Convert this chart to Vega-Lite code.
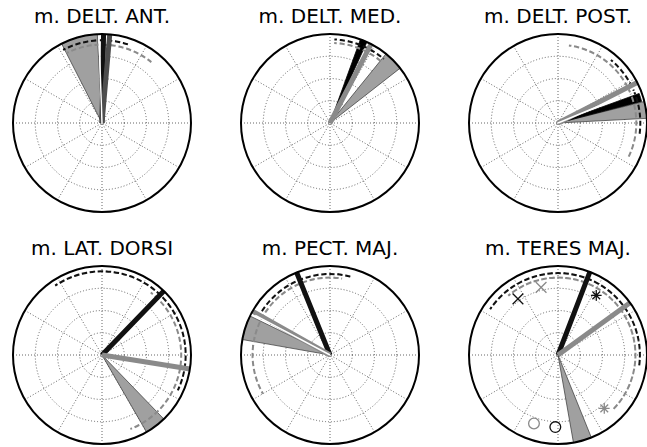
{
 "$schema": "https://vega.github.io/schema/vega-lite/v6.json",
 "background": "white",
 "padding": {"left": 9, "top": 7, "right": 0, "bottom": 0},
 "bounds": "flush",
 "config": {"view": {"stroke": null}},
 "datasets": {
  "main": [
  {"panel": "m. DELT. ANT.", "kind": "spoke", "x": 1, "y": 0, "x2": -1, "y2": 0}, {"panel": "m. DELT. ANT.", "kind": "spoke", "x": 0.866, "y": 0.5, "x2": -0.866, "y2": -0.5}, {"panel": "m. DELT. ANT.", "kind": "spoke", "x": 0.5, "y": 0.866, "x2": -0.5, "y2": -0.866}, {"panel": "m. DELT. ANT.", "kind": "spoke", "x": 0, "y": 1, "x2": 0, "y2": -1}, {"panel": "m. DELT. ANT.", "kind": "spoke", "x": -0.5, "y": 0.866, "x2": 0.5, "y2": -0.866}, {"panel": "m. DELT. ANT.", "kind": "spoke", "x": -0.866, "y": 0.5, "x2": 0.866, "y2": -0.5},
  {"panel": "m. DELT. MED.", "kind": "spoke", "x": 1, "y": 0, "x2": -1, "y2": 0}, {"panel": "m. DELT. MED.", "kind": "spoke", "x": 0.866, "y": 0.5, "x2": -0.866, "y2": -0.5}, {"panel": "m. DELT. MED.", "kind": "spoke", "x": 0.5, "y": 0.866, "x2": -0.5, "y2": -0.866}, {"panel": "m. DELT. MED.", "kind": "spoke", "x": 0, "y": 1, "x2": 0, "y2": -1}, {"panel": "m. DELT. MED.", "kind": "spoke", "x": -0.5, "y": 0.866, "x2": 0.5, "y2": -0.866}, {"panel": "m. DELT. MED.", "kind": "spoke", "x": -0.866, "y": 0.5, "x2": 0.866, "y2": -0.5},
  {"panel": "m. DELT. POST.", "kind": "spoke", "x": 1, "y": 0, "x2": -1, "y2": 0}, {"panel": "m. DELT. POST.", "kind": "spoke", "x": 0.866, "y": 0.5, "x2": -0.866, "y2": -0.5}, {"panel": "m. DELT. POST.", "kind": "spoke", "x": 0.5, "y": 0.866, "x2": -0.5, "y2": -0.866}, {"panel": "m. DELT. POST.", "kind": "spoke", "x": 0, "y": 1, "x2": 0, "y2": -1}, {"panel": "m. DELT. POST.", "kind": "spoke", "x": -0.5, "y": 0.866, "x2": 0.5, "y2": -0.866}, {"panel": "m. DELT. POST.", "kind": "spoke", "x": -0.866, "y": 0.5, "x2": 0.866, "y2": -0.5},
  {"panel": "m. LAT. DORSI", "kind": "spoke", "x": 1, "y": 0, "x2": -1, "y2": 0}, {"panel": "m. LAT. DORSI", "kind": "spoke", "x": 0.866, "y": 0.5, "x2": -0.866, "y2": -0.5}, {"panel": "m. LAT. DORSI", "kind": "spoke", "x": 0.5, "y": 0.866, "x2": -0.5, "y2": -0.866}, {"panel": "m. LAT. DORSI", "kind": "spoke", "x": 0, "y": 1, "x2": 0, "y2": -1}, {"panel": "m. LAT. DORSI", "kind": "spoke", "x": -0.5, "y": 0.866, "x2": 0.5, "y2": -0.866}, {"panel": "m. LAT. DORSI", "kind": "spoke", "x": -0.866, "y": 0.5, "x2": 0.866, "y2": -0.5},
  {"panel": "m. PECT. MAJ.", "kind": "spoke", "x": 1, "y": 0, "x2": -1, "y2": 0}, {"panel": "m. PECT. MAJ.", "kind": "spoke", "x": 0.866, "y": 0.5, "x2": -0.866, "y2": -0.5}, {"panel": "m. PECT. MAJ.", "kind": "spoke", "x": 0.5, "y": 0.866, "x2": -0.5, "y2": -0.866}, {"panel": "m. PECT. MAJ.", "kind": "spoke", "x": 0, "y": 1, "x2": 0, "y2": -1}, {"panel": "m. PECT. MAJ.", "kind": "spoke", "x": -0.5, "y": 0.866, "x2": 0.5, "y2": -0.866}, {"panel": "m. PECT. MAJ.", "kind": "spoke", "x": -0.866, "y": 0.5, "x2": 0.866, "y2": -0.5},
  {"panel": "m. TERES MAJ.", "kind": "spoke", "x": 1, "y": 0, "x2": -1, "y2": 0}, {"panel": "m. TERES MAJ.", "kind": "spoke", "x": 0.866, "y": 0.5, "x2": -0.866, "y2": -0.5}, {"panel": "m. TERES MAJ.", "kind": "spoke", "x": 0.5, "y": 0.866, "x2": -0.5, "y2": -0.866}, {"panel": "m. TERES MAJ.", "kind": "spoke", "x": 0, "y": 1, "x2": 0, "y2": -1}, {"panel": "m. TERES MAJ.", "kind": "spoke", "x": -0.5, "y": 0.866, "x2": 0.5, "y2": -0.866}, {"panel": "m. TERES MAJ.", "kind": "spoke", "x": -0.866, "y": 0.5, "x2": 0.866, "y2": -0.5},

  {"panel": "m. DELT. ANT.", "kind": "ring", "a": 0, "a2": 360, "r": 0.25}, {"panel": "m. DELT. ANT.", "kind": "ring", "a": 0, "a2": 360, "r": 0.5}, {"panel": "m. DELT. ANT.", "kind": "ring", "a": 0, "a2": 360, "r": 0.75}, {"panel": "m. DELT. ANT.", "kind": "outer", "a": 0, "a2": 360, "r": 1},
  {"panel": "m. DELT. MED.", "kind": "ring", "a": 0, "a2": 360, "r": 0.25}, {"panel": "m. DELT. MED.", "kind": "ring", "a": 0, "a2": 360, "r": 0.5}, {"panel": "m. DELT. MED.", "kind": "ring", "a": 0, "a2": 360, "r": 0.75}, {"panel": "m. DELT. MED.", "kind": "outer", "a": 0, "a2": 360, "r": 1},
  {"panel": "m. DELT. POST.", "kind": "ring", "a": 0, "a2": 360, "r": 0.25}, {"panel": "m. DELT. POST.", "kind": "ring", "a": 0, "a2": 360, "r": 0.5}, {"panel": "m. DELT. POST.", "kind": "ring", "a": 0, "a2": 360, "r": 0.75}, {"panel": "m. DELT. POST.", "kind": "outer", "a": 0, "a2": 360, "r": 1},
  {"panel": "m. LAT. DORSI", "kind": "ring", "a": 0, "a2": 360, "r": 0.25}, {"panel": "m. LAT. DORSI", "kind": "ring", "a": 0, "a2": 360, "r": 0.5}, {"panel": "m. LAT. DORSI", "kind": "ring", "a": 0, "a2": 360, "r": 0.75}, {"panel": "m. LAT. DORSI", "kind": "outer", "a": 0, "a2": 360, "r": 1},
  {"panel": "m. PECT. MAJ.", "kind": "ring", "a": 0, "a2": 360, "r": 0.25}, {"panel": "m. PECT. MAJ.", "kind": "ring", "a": 0, "a2": 360, "r": 0.5}, {"panel": "m. PECT. MAJ.", "kind": "ring", "a": 0, "a2": 360, "r": 0.75}, {"panel": "m. PECT. MAJ.", "kind": "outer", "a": 0, "a2": 360, "r": 1},
  {"panel": "m. TERES MAJ.", "kind": "ring", "a": 0, "a2": 360, "r": 0.25}, {"panel": "m. TERES MAJ.", "kind": "ring", "a": 0, "a2": 360, "r": 0.5}, {"panel": "m. TERES MAJ.", "kind": "ring", "a": 0, "a2": 360, "r": 0.75}, {"panel": "m. TERES MAJ.", "kind": "outer", "a": 0, "a2": 360, "r": 1},

  {"panel": "m. DELT. ANT.", "kind": "sector", "a": 93, "a2": 117, "r": 1},
  {"panel": "m. DELT. MED.", "kind": "sector", "a": 38, "a2": 51, "r": 1},
  {"panel": "m. DELT. POST.", "kind": "sector", "a": 3, "a2": 14, "r": 1},
  {"panel": "m. LAT. DORSI", "kind": "sector", "a": -60, "a2": -46, "r": 1},
  {"panel": "m. PECT. MAJ.", "kind": "sector", "a": 154, "a2": 170, "r": 1},
  {"panel": "m. TERES MAJ.", "kind": "sector", "a": -80, "a2": -68, "r": 1},

  {"panel": "m. DELT. MED.", "kind": "wedge", "a": 65.5, "a2": 70, "r": 1},
  {"panel": "m. DELT. POST.", "kind": "wedge", "a": 14.5, "a2": 20, "r": 0.97},

  {"panel": "m. DELT. ANT.", "kind": "dash", "series": "black", "a": 70, "a2": 118, "r": 0.93},
  {"panel": "m. DELT. ANT.", "kind": "dash", "series": "grey", "a": 51, "a2": 117, "r": 0.88},
  {"panel": "m. DELT. MED.", "kind": "dash", "series": "black", "a": 50, "a2": 87, "r": 0.94},
  {"panel": "m. DELT. MED.", "kind": "dash", "series": "grey", "a": 50, "a2": 87, "r": 0.9},
  {"panel": "m. DELT. POST.", "kind": "dash", "series": "black", "a": -8, "a2": 50, "r": 0.925},
  {"panel": "m. DELT. POST.", "kind": "dash", "series": "grey", "a": -27, "a2": 82, "r": 0.88},
  {"panel": "m. LAT. DORSI", "kind": "dash", "series": "black", "a": -25, "a2": 124, "r": 0.94},
  {"panel": "m. LAT. DORSI", "kind": "dash", "series": "grey", "a": -69, "a2": 52, "r": 0.89},
  {"panel": "m. PECT. MAJ.", "kind": "dash", "series": "black", "a": 75, "a2": 151, "r": 0.91},
  {"panel": "m. PECT. MAJ.", "kind": "dash", "series": "grey", "a": 81, "a2": 210, "r": 0.87},
  {"panel": "m. TERES MAJ.", "kind": "dash", "series": "black", "a": -8, "a2": 146, "r": 0.92},
  {"panel": "m. TERES MAJ.", "kind": "dash", "series": "grey", "a": -45, "a2": 130, "r": 0.87},

  {"panel": "m. DELT. ANT.", "kind": "line", "series": "black", "a": 89, "r": 1},
  {"panel": "m. DELT. ANT.", "kind": "line", "series": "dark", "a": 85, "r": 1},
  {"panel": "m. DELT. MED.", "kind": "line", "series": "grey", "a": 62.5, "r": 1},
  {"panel": "m. DELT. POST.", "kind": "line", "series": "grey", "a": 27, "r": 1},
  {"panel": "m. LAT. DORSI", "kind": "line", "series": "black", "a": 46, "r": 1},
  {"panel": "m. LAT. DORSI", "kind": "line", "series": "grey", "a": -9, "r": 1},
  {"panel": "m. PECT. MAJ.", "kind": "line", "series": "black", "a": 112, "r": 1},
  {"panel": "m. PECT. MAJ.", "kind": "line", "series": "grey", "a": 150.5, "r": 1},
  {"panel": "m. TERES MAJ.", "kind": "line", "series": "black", "a": 69, "r": 1},
  {"panel": "m. TERES MAJ.", "kind": "line", "series": "grey", "a": 36, "r": 1},

  {"panel": "m. DELT. ANT.", "kind": "thin", "series": "white", "a": 92, "r": 0.97},
  {"panel": "m. DELT. POST.", "kind": "thin", "series": "white", "a": 22.5, "r": 0.97},
  {"panel": "m. PECT. MAJ.", "kind": "thin", "series": "white", "a": 152, "r": 0.95},

  {"panel": "m. TERES MAJ.", "kind": "marker", "marker": "x", "series": "black", "x": -0.45, "y": 0.63},
  {"panel": "m. TERES MAJ.", "kind": "marker", "marker": "x", "series": "grey", "x": -0.19, "y": 0.76},
  {"panel": "m. TERES MAJ.", "kind": "marker", "marker": "star", "series": "black", "x": 0.43, "y": 0.67},
  {"panel": "m. TERES MAJ.", "kind": "marker", "marker": "star", "series": "grey", "x": 0.52, "y": -0.6},
  {"panel": "m. TERES MAJ.", "kind": "marker", "marker": "o", "series": "grey", "x": -0.27, "y": -0.77},
  {"panel": "m. TERES MAJ.", "kind": "marker", "marker": "o", "series": "black", "x": -0.03, "y": -0.81}
  ]
 },
 "data": {"name": "main"},
 "facet": {
  "field": "panel", "type": "nominal",
  "sort": ["m. DELT. ANT.", "m. DELT. MED.", "m. DELT. POST.", "m. LAT. DORSI", "m. PECT. MAJ.", "m. TERES MAJ."],
  "title": null,
  "header": {"labelFont": "DejaVu Sans", "labelFontSize": 20, "labelColor": "black", "labelPadding": 3}
 },
 "columns": 3,
 "spacing": {"row": 54, "column": 50},
 "spec": {
  "width": 178,
  "height": 178,
  "layer": [
   {
    "transform": [{"filter": "datum.kind == 'spoke'"}],
    "mark": {"type": "rule", "stroke": "#555555", "strokeWidth": 0.9, "strokeDash": [1, 2]},
    "encoding": {
     "x": {"field": "x", "type": "quantitative", "axis": null, "scale": {"domain": [-1, 1], "nice": false, "zero": false}},
     "y": {"field": "y", "type": "quantitative", "axis": null, "scale": {"domain": [-1, 1], "nice": false, "zero": false}},
     "x2": {"field": "x2"},
     "y2": {"field": "y2"}
    }
   },
   {
    "transform": [{"filter": "datum.kind == 'ring'"}],
    "mark": {"type": "arc", "filled": false, "stroke": "#555555", "strokeWidth": 0.9, "strokeDash": [1, 2]},
    "encoding": {
     "theta": {"field": "a", "type": "quantitative", "stack": null, "scale": {"domain": [0, 360], "range": [1.5707963267948966, -4.71238898038469], "zero": false, "nice": false}},
     "theta2": {"field": "a2"},
     "radius": {"field": "r", "type": "quantitative", "scale": {"type": "linear", "domain": [0, 1], "range": [0, 89], "zero": true, "nice": false}}
    }
   },
   {
    "transform": [{"filter": "datum.kind == 'sector'"}],
    "mark": {"type": "arc", "fill": "#a0a0a0", "stroke": "#333333", "strokeWidth": 0.7},
    "encoding": {
     "theta": {"field": "a", "type": "quantitative", "stack": null, "scale": {"domain": [0, 360], "range": [1.5707963267948966, -4.71238898038469], "zero": false, "nice": false}},
     "theta2": {"field": "a2"},
     "radius": {"field": "r", "type": "quantitative", "scale": {"type": "linear", "domain": [0, 1], "range": [0, 89], "zero": true, "nice": false}}
    }
   },
   {
    "transform": [{"filter": "datum.kind == 'wedge'"}],
    "mark": {"type": "arc", "fill": "#000000", "stroke": "#000000", "strokeWidth": 0.8},
    "encoding": {
     "theta": {"field": "a", "type": "quantitative", "stack": null, "scale": {"domain": [0, 360], "range": [1.5707963267948966, -4.71238898038469], "zero": false, "nice": false}},
     "theta2": {"field": "a2"},
     "radius": {"field": "r", "type": "quantitative", "scale": {"type": "linear", "domain": [0, 1], "range": [0, 89], "zero": true, "nice": false}}
    }
   },
   {
    "transform": [{"filter": "datum.kind == 'dash'"}],
    "mark": {"type": "arc", "filled": false, "strokeWidth": 2, "strokeDash": [5, 3], "strokeDashOffset": {"expr": "2.5 - datum.r * 89 * abs(datum.a2 - datum.a) * PI / 180"}},
    "encoding": {
     "theta": {"field": "a", "type": "quantitative", "stack": null, "scale": {"domain": [0, 360], "range": [1.5707963267948966, -4.71238898038469], "zero": false, "nice": false}},
     "theta2": {"field": "a2"},
     "radius": {"field": "r", "type": "quantitative", "scale": {"type": "linear", "domain": [0, 1], "range": [0, 89], "zero": true, "nice": false}},
     "radius2": {"field": "r"},
     "stroke": {"field": "series", "type": "nominal", "legend": null, "scale": {"domain": ["black", "grey", "dark", "white"], "range": ["#111111", "#8a8a8a", "#4d4d4d", "#ffffff"]}}
    }
   },
   {
    "transform": [{"filter": "datum.kind == 'line'"}],
    "mark": {"type": "arc", "filled": false, "strokeWidth": 5, "strokeJoin": "bevel"},
    "encoding": {
     "theta": {"field": "a", "type": "quantitative", "stack": null, "scale": {"domain": [0, 360], "range": [1.5707963267948966, -4.71238898038469], "zero": false, "nice": false}},
     "theta2": {"field": "a"},
     "radius": {"field": "r", "type": "quantitative", "scale": {"type": "linear", "domain": [0, 1], "range": [0, 89], "zero": true, "nice": false}},
     "stroke": {"field": "series", "type": "nominal", "legend": null, "scale": {"domain": ["black", "grey", "dark", "white"], "range": ["#111111", "#8a8a8a", "#4d4d4d", "#ffffff"]}}
    }
   },
   {
    "transform": [{"filter": "datum.kind == 'thin'"}],
    "mark": {"type": "arc", "filled": false, "strokeWidth": 1.5, "strokeJoin": "bevel"},
    "encoding": {
     "theta": {"field": "a", "type": "quantitative", "stack": null, "scale": {"domain": [0, 360], "range": [1.5707963267948966, -4.71238898038469], "zero": false, "nice": false}},
     "theta2": {"field": "a"},
     "radius": {"field": "r", "type": "quantitative", "scale": {"type": "linear", "domain": [0, 1], "range": [0, 89], "zero": true, "nice": false}},
     "stroke": {"field": "series", "type": "nominal", "legend": null, "scale": {"domain": ["black", "grey", "dark", "white"], "range": ["#111111", "#8a8a8a", "#4d4d4d", "#ffffff"]}}
    }
   },
   {
    "transform": [{"filter": "datum.kind == 'outer'"}],
    "mark": {"type": "arc", "filled": false, "stroke": "#000000", "strokeWidth": 2},
    "encoding": {
     "theta": {"field": "a", "type": "quantitative", "stack": null, "scale": {"domain": [0, 360], "range": [1.5707963267948966, -4.71238898038469], "zero": false, "nice": false}},
     "theta2": {"field": "a2"},
     "radius": {"field": "r", "type": "quantitative", "scale": {"type": "linear", "domain": [0, 1], "range": [0, 89], "zero": true, "nice": false}}
    }
   },
   {
    "transform": [{"filter": "datum.kind == 'marker'"}],
    "mark": {"type": "point", "filled": false, "strokeWidth": 1.3, "size": 115, "opacity": 1},
    "encoding": {
     "x": {"field": "x", "type": "quantitative", "axis": null, "scale": {"domain": [-1, 1], "nice": false, "zero": false}},
     "y": {"field": "y", "type": "quantitative", "axis": null, "scale": {"domain": [-1, 1], "nice": false, "zero": false}},
     "shape": {"field": "marker", "type": "nominal", "legend": null, "scale": {"domain": ["x", "star", "o"], "range": ["M-1,-1L1,1M-1,1L1,-1", "M0,-1L0,1M-1,0L1,0M-0.72,-0.72L0.72,0.72M-0.72,0.72L0.72,-0.72", "circle"]}},
     "stroke": {"field": "series", "type": "nominal", "legend": null, "scale": {"domain": ["black", "grey", "dark", "white"], "range": ["#111111", "#8a8a8a", "#4d4d4d", "#ffffff"]}}
    }
   }
  ]
 }
}
